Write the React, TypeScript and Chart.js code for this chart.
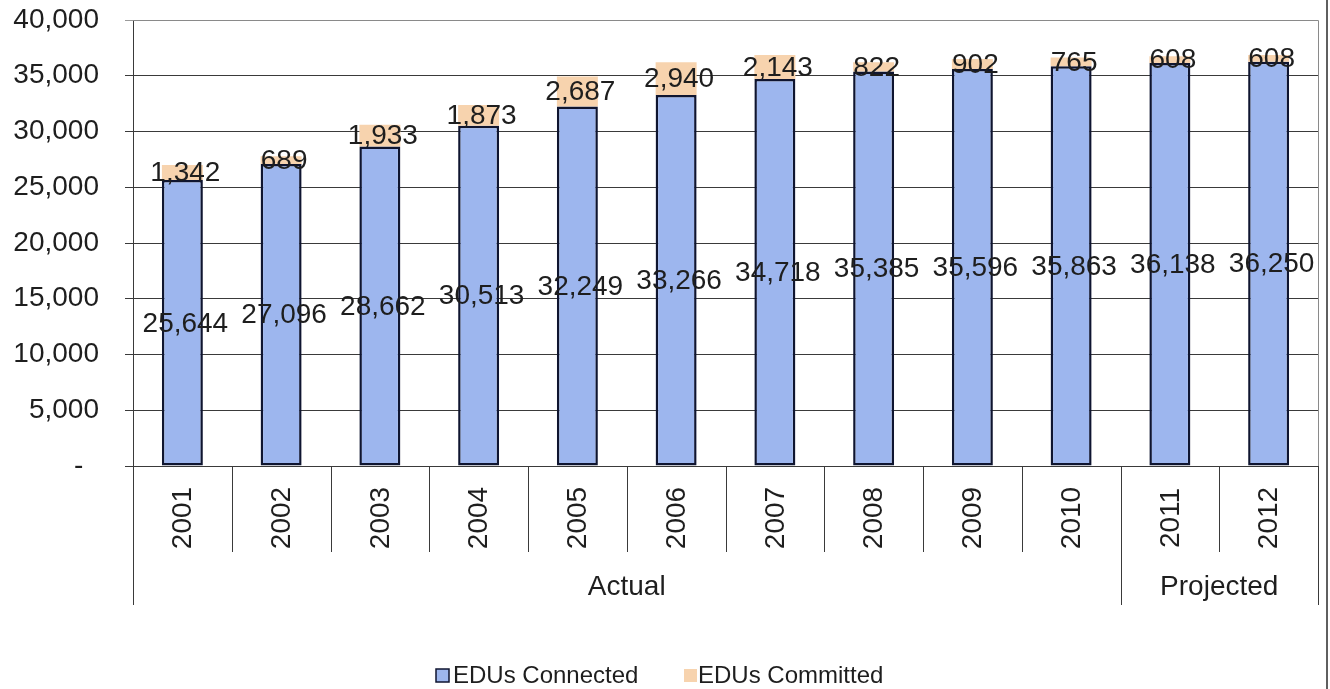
import React, { useEffect, useRef } from "react";
import { Chart, registerables } from "chart.js";

Chart.register(...registerables);

// Years on the category axis
const years = ["2001", "2002", "2003", "2004", "2005", "2006", "2007", "2008", "2009", "2010", "2011", "2012"];

// Equivalent dwelling units already connected
const connected = [25644, 27096, 28662, 30513, 32249, 33266, 34718, 35385, 35596, 35863, 36138, 36250];

// Equivalent dwelling units committed on top of the connected total
const committed = [1342, 689, 1933, 1873, 2687, 2940, 2143, 822, 902, 765, 608, 608];

// Second row of the category axis: which years are actual vs. projected
const groupLabels = ["Actual", "Projected"];
const groupStarts = [0, 10];
const groupEnds = [9, 11];

const seriesNames = ["EDUs Connected", "EDUs Committed"];

const FONT = "'Liberation Sans', Arial, Helvetica, sans-serif";
const TEXT = "#1e1e1e";
const BLUE = "#9db6ee";
const BLUE_EDGE = "#0f1530";
const PEACH = "#f7d3ae";

const fmt = (v: number) => v.toLocaleString("en-US");

// Value labels centred in every bar segment
const valueLabels = {
  id: "valueLabels",
  afterDatasetsDraw(chart: any) {
    const ctx = chart.ctx;
    ctx.save();
    ctx.font = `28px ${FONT}`;
    ctx.fillStyle = TEXT;
    ctx.textAlign = "center";
    ctx.textBaseline = "middle";
    chart.data.datasets.forEach((ds: any, di: number) => {
      const meta = chart.getDatasetMeta(di);
      meta.data.forEach((el: any, i: number) => {
        const y = (el.y + el.base) / 2;
        ctx.fillText(fmt(ds.data[i]), el.x + 3, y + 1);
      });
    });
    ctx.restore();
  },
};

// Two-level category axis: rotated years with cell dividers, then period groups
const categoryTable = {
  id: "categoryTable",
  afterDraw(chart: any) {
    const ctx = chart.ctx;
    const xs = chart.scales.x;
    const area = chart.chartArea;
    const n = years.length;
    const step = (area.right - area.left) / n;
    const top = area.bottom;
    const yearBottom = top + 86;
    const groupBottom = top + 139;

    ctx.save();
    ctx.strokeStyle = "#3a3a3a";
    ctx.lineWidth = 1;
    const groupEdges = new Set<number>();
    groupStarts.forEach((s) => groupEdges.add(s));
    groupEnds.forEach((e) => groupEdges.add(e + 1));
    for (let k = 0; k <= n; k++) {
      const x = Math.round(area.left + k * step) + 0.5;
      const bottom = groupEdges.has(k) ? groupBottom : yearBottom;
      ctx.beginPath();
      ctx.moveTo(x, top);
      ctx.lineTo(x, bottom);
      ctx.stroke();
    }

    ctx.fillStyle = TEXT;
    ctx.font = `28px ${FONT}`;
    ctx.textAlign = "center";
    ctx.textBaseline = "middle";
    years.forEach((yr, i) => {
      const x = xs.getPixelForValue(i);
      ctx.save();
      ctx.translate(x + 1, top + 52);
      ctx.rotate(-Math.PI / 2);
      ctx.fillText(yr, 0, 0);
      ctx.restore();
    });

    groupLabels.forEach((g, gi) => {
      const left = area.left + groupStarts[gi] * step;
      const right = area.left + (groupEnds[gi] + 1) * step;
      ctx.fillText(g, (left + right) / 2, top + 121);
    });

    // plot frame on the top and right, and the outer frame edge
    ctx.strokeStyle = "#8a8a8a";
    ctx.beginPath();
    ctx.moveTo(area.left, Math.round(area.top) + 0.5);
    ctx.lineTo(Math.round(area.right) + 0.5, Math.round(area.top) + 0.5);
    ctx.lineTo(Math.round(area.right) + 0.5, top);
    ctx.stroke();
    ctx.strokeStyle = "#2a2a2a";
    ctx.lineWidth = 1.5;
    ctx.beginPath();
    ctx.moveTo(1327, 0);
    ctx.lineTo(1327, chart.height);
    ctx.stroke();

    // legend
    const ly = 676;
    ctx.lineWidth = 1.5;
    ctx.fillStyle = BLUE;
    ctx.fillRect(436, ly - 7, 13, 13);
    ctx.strokeStyle = BLUE_EDGE;
    ctx.strokeRect(436, ly - 7, 13, 13);
    ctx.fillStyle = PEACH;
    ctx.fillRect(684, ly - 7, 13, 13);
    ctx.fillStyle = TEXT;
    ctx.font = `24px ${FONT}`;
    ctx.textAlign = "left";
    ctx.fillText(seriesNames[0], 453, ly);
    ctx.fillText(seriesNames[1], 698, ly);
    ctx.restore();
  },
};

export default function App() {
  const ref = useRef<HTMLCanvasElement | null>(null);

  useEffect(() => {
    if (!ref.current) return;
    Chart.defaults.font.family = FONT;
    const chart = new Chart(ref.current, {
      type: "bar",
      data: {
        labels: years,
        datasets: [
          {
            label: seriesNames[0],
            data: connected,
            backgroundColor: BLUE,
            borderColor: BLUE_EDGE,
            borderWidth: 2.5,
            borderSkipped: false,
            barPercentage: 0.415,
            categoryPercentage: 1,
          },
          {
            label: seriesNames[1],
            data: committed,
            backgroundColor: PEACH,
            borderWidth: 0,
            barPercentage: 0.415,
            categoryPercentage: 1,
          },
        ],
      },
      options: {
        animation: false,
        responsive: false,
        devicePixelRatio: 1,
        layout: { padding: { left: 0, right: 12, top: 20, bottom: 83 } },
        plugins: {
          legend: { display: false },
          tooltip: { enabled: false },
        },
        scales: {
          x: {
            stacked: true,
            grid: { display: false },
            border: { display: false },
            ticks: { display: false },
            afterFit(scale: any) {
              scale.height = 140;
            },
          },
          y: {
            stacked: true,
            min: 0,
            max: 40000,
            ticks: {
              stepSize: 5000,
              padding: 26,
              color: TEXT,
              font: { size: 28, family: FONT },
              callback: (v: any) => (Number(v) === 0 ? "-  " : fmt(Number(v))),
            },
            grid: {
              color: (c: any) => (c.tick && c.tick.value === 40000 ? "#9a9a9a" : "#3a3a3a"),
              lineWidth: 1,
              tickLength: 8,
            },
            border: { display: true, color: "#3a3a3a", width: 1 },
            afterFit(scale: any) {
              scale.width = 133;
              scale.paddingTop = 0;
              scale.paddingBottom = 0;
            },
          },
        },
      },
      plugins: [valueLabels, categoryTable],
    });
    return () => chart.destroy();
  }, []);

  return (
    <div style={{ position: "absolute", left: 0, top: 0, width: 1330, height: 689, background: "#fff" }}>
      <canvas ref={ref} width={1330} height={689} style={{ display: "block" }} />
    </div>
  );
}
